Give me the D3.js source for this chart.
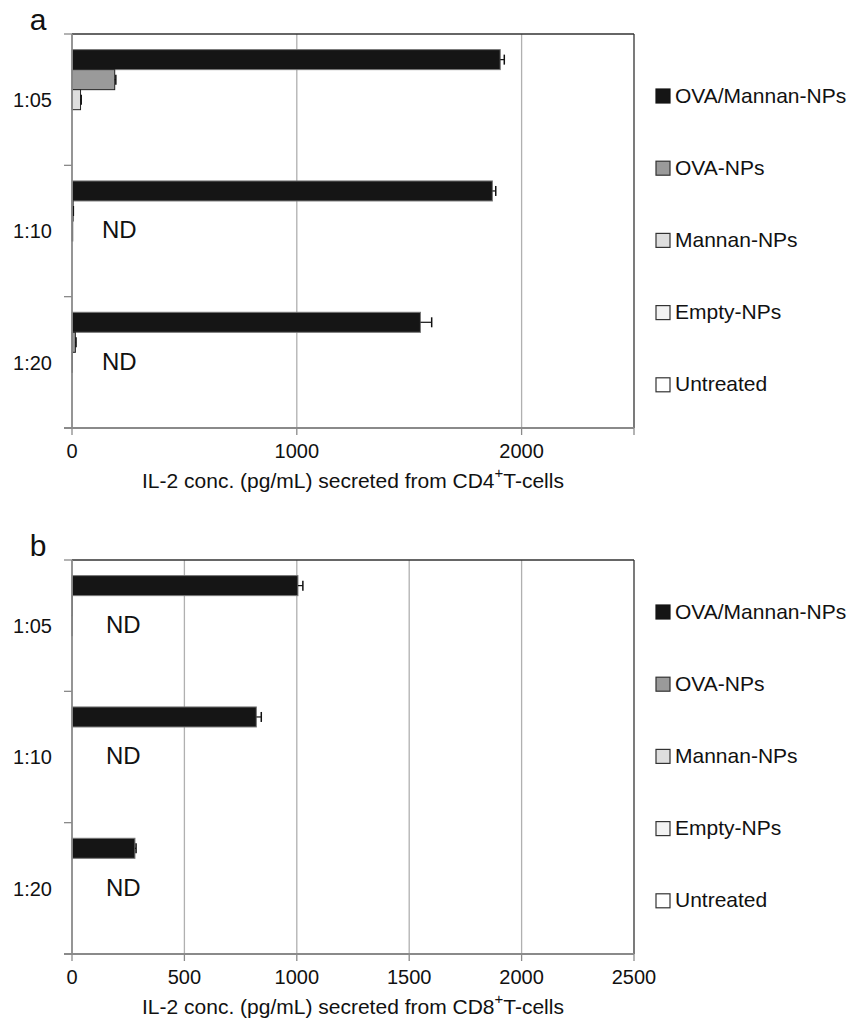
<!DOCTYPE html>
<html><head><meta charset="utf-8">
<script src="https://cdn.jsdelivr.net/npm/d3@7"></script>
<style>body{margin:0;background:#fff}svg{display:block}text{font-family:"Liberation Sans",Arial,sans-serif;fill:#111}</style>
</head><body>
<svg id="c" width="856" height="1024"></svg>
<script>
const categories = ["1:05", "1:10", "1:20"];
const seriesNames = ["OVA/Mannan-NPs", "OVA-NPs", "Mannan-NPs", "Empty-NPs", "Untreated"];
const seriesColors = ["#151515", "#9a9a9a", "#dedede", "#f2f2f2", "#ffffff"];
// Panel a (CD4+)
const a_ovaMannan = [1905, 1870, 1550];
const a_ovaMannanErr = [18, 15, 50];
const a_ova = [190, 5, 15];
const a_ovaErr = [5, 1, 3];
const a_mannan = [38, 3, 2];
const a_mannanErr = [3, 0, 0];
const a_empty = [0, 0, 0];
const a_untreated = [0, 0, 0];
const a_ticks = [0, 1000, 2000];
const a_ndCats = ["1:10", "1:20"];
// Panel b (CD8+)
const b_ovaMannan = [1005, 820, 280];
const b_ovaMannanErr = [22, 22, 5];
const b_ova = [2, 0, 0];
const b_mannan = [1, 0, 0];
const b_empty = [0, 0, 0];
const b_untreated = [0, 0, 0];
const b_ticks = [0, 500, 1000, 1500, 2000, 2500];
const b_ndCats = ["1:05", "1:10", "1:20"];
const xMax = 2500;

const svg = d3.select("#c");

function panel(cfg) {
  const g = svg.append("g");
  const x = d3.scaleLinear().domain([0, xMax]).range([72, 634]);
  const y = d3.scaleBand().domain(categories).range([cfg.top, cfg.top + 394]);
  const inner = d3.scaleBand().domain(seriesNames).range([0, y.bandwidth()]).paddingOuter(0.78);
  const bottom = cfg.top + 394;
  // gridlines
  g.selectAll(".grid").data(cfg.ticks.filter(t => t > 0 && t < xMax)).join("line")
    .attr("x1", d => x(d)).attr("x2", d => x(d)).attr("y1", cfg.top).attr("y2", bottom)
    .attr("stroke", "#b0b0b0").attr("stroke-width", 1.3);
  // frame top/right
  g.append("line").attr("x1", 72).attr("x2", 634).attr("y1", cfg.top).attr("y2", cfg.top).attr("stroke", "#333").attr("stroke-width", 1.3);
  g.append("line").attr("x1", 634).attr("x2", 634).attr("y1", cfg.top).attr("y2", bottom).attr("stroke", "#333").attr("stroke-width", 1.3);
  // bars
  const data = [];
  cfg.values.forEach((vals, si) => vals.forEach((v, ci) => data.push({s: seriesNames[si], si, c: categories[ci], v, e: cfg.errs[si] ? cfg.errs[si][ci] : 0})));
  g.selectAll(".bar").data(data.filter(d => d.v > 0)).join("rect")
    .attr("x", x(0)).attr("y", d => y(d.c) + inner(d.s)).attr("width", d => x(d.v) - x(0)).attr("height", inner.bandwidth())
    .attr("fill", d => seriesColors[d.si]).attr("stroke", d => d.si === 0 ? "#777" : "#222").attr("stroke-width", 1);
  // error bars
  const eb = data.filter(d => d.v > 0 && d.e > 0);
  g.selectAll(".eb").data(eb).join("line")
    .attr("x1", d => x(d.v)).attr("x2", d => x(d.v + d.e))
    .attr("y1", d => y(d.c) + inner(d.s) + inner.bandwidth() / 2).attr("y2", d => y(d.c) + inner(d.s) + inner.bandwidth() / 2)
    .attr("stroke", "#111").attr("stroke-width", 1.2);
  g.selectAll(".ebc").data(eb).join("line")
    .attr("x1", d => x(d.v + d.e)).attr("x2", d => x(d.v + d.e))
    .attr("y1", d => y(d.c) + inner(d.s) + inner.bandwidth() / 2 - 5).attr("y2", d => y(d.c) + inner(d.s) + inner.bandwidth() / 2 + 5)
    .attr("stroke", "#111").attr("stroke-width", 1.5);
  // left axis
  g.append("line").attr("x1", 72).attr("x2", 72).attr("y1", cfg.top).attr("y2", bottom).attr("stroke", "#8a8a8a").attr("stroke-width", 1.8);
  const bounds = categories.map(c => y(c)).concat([bottom]);
  g.selectAll(".yt").data(bounds).join("line").attr("x1", 64).attr("x2", 72).attr("y1", d => d).attr("y2", d => d).attr("stroke", "#8a8a8a").attr("stroke-width", 1.3);
  g.selectAll(".yl").data(categories).join("text").attr("x", 52).attr("y", d => y(d) + y.bandwidth() / 2 + 2)
    .attr("text-anchor", "end").attr("dominant-baseline", "middle").attr("font-size", 20).text(d => d);
  // bottom axis
  g.append("line").attr("x1", 64).attr("x2", 634).attr("y1", bottom).attr("y2", bottom).attr("stroke", "#8a8a8a").attr("stroke-width", 1.8);
  g.selectAll(".xt").data(cfg.ticks.concat(cfg.ticks.includes(xMax) ? [] : [xMax])).join("line")
    .attr("x1", d => x(d)).attr("x2", d => x(d)).attr("y1", bottom).attr("y2", bottom + 7).attr("stroke", "#8a8a8a").attr("stroke-width", 1.3);
  g.selectAll(".xl").data(cfg.ticks).join("text").attr("x", d => x(d)).attr("y", d => bottom + 25)
    .attr("text-anchor", "middle").attr("dominant-baseline", "middle").attr("font-size", 20).text(d => d);
  // axis title
  const t = g.append("text").attr("x", 353).attr("y", bottom + 54).attr("text-anchor", "middle").attr("dominant-baseline", "middle").attr("font-size", 21);
  t.append("tspan").text("IL-2 conc. (pg/mL) secreted from CD" + cfg.cd);
  t.append("tspan").attr("dy", -8).attr("font-size", 15).text("+");
  t.append("tspan").attr("dy", 8).text("T-cells");
  // ND labels
  g.selectAll(".nd").data(cfg.nd).join("text").attr("x", x(0) + cfg.ndDx).attr("y", d => y(d) + y.bandwidth() / 2 + 1)
    .attr("dominant-baseline", "middle").attr("font-size", 24).text("ND");
  // panel letter
  g.append("text").attr("x", 38).attr("y", cfg.top - 4).attr("text-anchor", "middle").attr("font-size", 30).text(cfg.letter);
  // legend
  const lg = g.selectAll(".lg").data(seriesNames).join("g").attr("transform", (d, i) => `translate(656,${cfg.legTop + i * 72.2})`);
  lg.append("rect").attr("x", 0).attr("y", -7).attr("width", 14).attr("height", 14)
    .attr("fill", (d, i) => seriesColors[i]).attr("stroke", (d, i) => i === 0 ? "#151515" : "#333").attr("stroke-width", 1.2);
  lg.append("text").attr("x", 19).attr("y", 1).attr("dominant-baseline", "middle").attr("font-size", 21).text(d => d);
}

panel({top: 34, letter: "a", cd: "4", ticks: a_ticks, nd: a_ndCats, ndDx: 30, legTop: 96,
  values: [a_ovaMannan, a_ova, a_mannan, a_empty, a_untreated],
  errs: [a_ovaMannanErr, a_ovaErr, a_mannanErr, null, null]});
panel({top: 560, letter: "b", cd: "8", ticks: b_ticks, nd: b_ndCats, ndDx: 34, legTop: 612,
  values: [b_ovaMannan, b_ova, b_mannan, b_empty, b_untreated],
  errs: [b_ovaMannanErr, null, null, null, null]});
</script>
</body></html>
